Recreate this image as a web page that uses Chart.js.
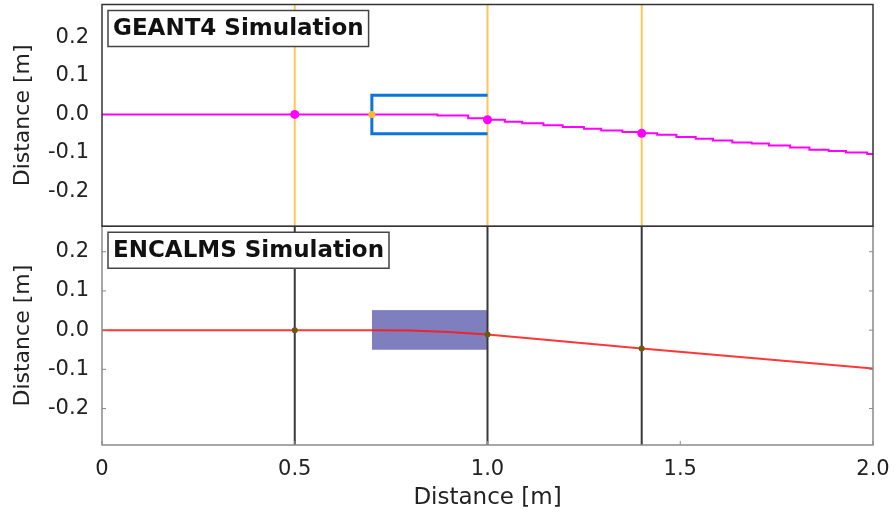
<!DOCTYPE html>
<html>
<head>
<meta charset="utf-8">
<script src="https://cdn.jsdelivr.net/npm/chart.js@4"></script>
<style>
  html, body { margin: 0; padding: 0; background: #fff; }
  #wrap { width: 896px; height: 516px; }
</style>
</head>
<body>
<div id="wrap"><canvas id="trackChart" width="896" height="516"></canvas></div>
<script>
// --- data ---
const detectorX = [0.5, 1.0, 1.4];
const geantHitY = [0.0, -0.014, -0.049];
const encalmsHitY = [0.0, -0.011, -0.047];
const magnetX = [0.7, 1.0];
const magnetY = [-0.05, 0.05];
const geantEntry = [0.7, 0.0];

// GEANT4 track (staircase)
const geantX = [0, 0.87, 0.95, 1.0, 1.045, 1.09, 1.145, 1.195, 1.25, 1.295, 1.35, 1.4, 1.44,
  1.49, 1.54, 1.585, 1.635, 1.685, 1.73, 1.785, 1.835, 1.885, 1.93, 1.985, 2.0];
const geantY = [0, -0.003, -0.010, -0.014, -0.019, -0.023, -0.028, -0.033, -0.037, -0.042, -0.046,
  -0.049, -0.053, -0.059, -0.063, -0.068, -0.073, -0.076, -0.081, -0.086, -0.092, -0.095, -0.099, -0.103, -0.103];

// ENCALMS track
const encX = [0, 0.7, 0.8, 0.9, 1.0, 1.4, 2.0];
const encY = [0, 0, -0.001, -0.005, -0.011, -0.047, -0.098];

const xTicks = [0, 0.5, 1.0, 1.5, 2.0];
const yTicks = [-0.2, -0.1, 0.0, 0.1, 0.2];
const topRange = [-0.291, 0.286];
const botRange = [-0.293, 0.265];
const panelLabels = ['GEANT4 Simulation', 'ENCALMS Simulation'];

const FONT = "'DejaVu Sans', Verdana, sans-serif";
const pts = (xs, ys) => xs.map((x, i) => ({ x: x, y: ys[i] }));

const datasets = [];

// top panel
datasets.push({
  data: detectorX.map((x, i) => ({ x: x, y: geantHitY[i] })),
  yAxisID: 'yTop', showLine: false, pointRadius: 4.5, pointBackgroundColor: '#ff00ff',
  pointBorderWidth: 0, order: 0
});
datasets.push({
  data: [{ x: geantEntry[0], y: geantEntry[1] }],
  yAxisID: 'yTop', showLine: false, pointRadius: 3.5, pointBackgroundColor: '#ffb830',
  pointBorderWidth: 0, order: 0
});
datasets.push({
  data: pts(geantX, geantY), yAxisID: 'yTop', borderColor: '#ff00ff', borderWidth: 2,
  stepped: 'before', pointRadius: 0, order: 1
});
datasets.push({
  data: [{ x: magnetX[1], y: magnetY[1] }, { x: magnetX[0], y: magnetY[1] },
         { x: magnetX[0], y: magnetY[0] }, { x: magnetX[1], y: magnetY[0] }],
  yAxisID: 'yTop', borderColor: '#0a74da', borderWidth: 3, pointRadius: 0, order: 2
});
detectorX.forEach(x => {
  datasets.push({
    data: [{ x: x, y: topRange[0] }, { x: x, y: topRange[1] }],
    yAxisID: 'yTop', borderColor: '#ffc658', borderWidth: 2, pointRadius: 0, order: 3
  });
});

// bottom panel
datasets.push({
  data: detectorX.map((x, i) => ({ x: x, y: encalmsHitY[i] })),
  yAxisID: 'yBot', showLine: false, pointRadius: 3, pointBackgroundColor: '#6b5b10',
  pointBorderWidth: 0, order: 0
});
detectorX.forEach(x => {
  datasets.push({
    data: [{ x: x, y: botRange[0] }, { x: x, y: botRange[1] }],
    yAxisID: 'yBot', borderColor: '#383838', borderWidth: 2, pointRadius: 0, order: 1
  });
});
datasets.push({
  data: pts(encX, encY), yAxisID: 'yBot', borderColor: 'rgba(255,20,20,0.85)', borderWidth: 2,
  pointRadius: 0, order: 2
});
datasets.push({
  data: [{ x: magnetX[0], y: magnetY[1] }, { x: magnetX[1], y: magnetY[1] }],
  yAxisID: 'yBot', borderColor: '#8c8cc8', borderWidth: 1, backgroundColor: '#7f7fbf',
  fill: { value: magnetY[0] }, pointRadius: 0, order: 3
});

function yScale(range, weight) {
  return {
    type: 'linear', position: 'left', stack: 'panels', stackWeight: weight,
    min: range[0], max: range[1],
    grid: { display: false }, border: { display: false },
    afterBuildTicks: s => { s.ticks = yTicks.map(v => ({ value: v })); },
    afterFit: s => { s.width = 102; s.paddingTop = 0; s.paddingBottom = 0; },
    ticks: { color: '#222', padding: 5, font: { family: FONT, size: 21 },
             callback: v => v.toFixed(1) },
    title: { display: true, text: 'Distance [m]', color: '#222', padding: { top: 10 },
             font: { family: FONT, size: 22 } }
  };
}

// frames, inner tick marks and panel labels
const framePlugin = {
  id: 'frames',
  afterDatasetsDraw(chart) {
    const ctx = chart.ctx;
    const { left, right } = chart.chartArea;
    const top = chart.scales.yTop, bot = chart.scales.yBot, xs = chart.scales.x;
    ctx.save();
    // bottom panel: light frame with small inward ticks
    ctx.strokeStyle = '#8a8a8a';
    ctx.lineWidth = 1.5;
    ctx.strokeRect(left, bot.top, right - left, bot.bottom - bot.top);
    ctx.lineWidth = 1;
    ctx.beginPath();
    yTicks.forEach(v => {
      const y = bot.getPixelForValue(v);
      ctx.moveTo(left, y); ctx.lineTo(left + 4, y);
      ctx.moveTo(right, y); ctx.lineTo(right - 4, y);
    });
    xTicks.forEach(v => {
      const x = xs.getPixelForValue(v);
      ctx.moveTo(x, bot.bottom); ctx.lineTo(x, bot.bottom - 4);
    });
    ctx.stroke();
    // top panel: darker frame
    ctx.strokeStyle = '#333';
    ctx.lineWidth = 1.5;
    ctx.strokeRect(left, top.top, right - left, top.bottom - top.top);
    // label boxes
    ctx.font = 'bold 23px ' + FONT;
    ctx.textBaseline = 'middle';
    [top, bot].forEach((s, i) => {
      const w = ctx.measureText(panelLabels[i]).width + 10;
      const bx = left + 6, by = s.top + 6, bh = 36;
      ctx.fillStyle = '#fff';
      ctx.fillRect(bx, by, w, bh);
      ctx.strokeStyle = '#444';
      ctx.lineWidth = 1.5;
      ctx.strokeRect(bx, by, w, bh);
      ctx.fillStyle = '#111';
      ctx.fillText(panelLabels[i], bx + 5, by + bh / 2 + 1);
    });
    ctx.restore();
  }
};

new Chart(document.getElementById('trackChart'), {
  type: 'line',
  data: { datasets: datasets },
  options: {
    responsive: false,
    animation: false,
    layout: { padding: { top: 4, right: 23, left: 0, bottom: 0 } },
    plugins: { legend: { display: false }, tooltip: { enabled: false } },
    elements: { line: { tension: 0, fill: false } },
    scales: {
      x: {
        type: 'linear', min: 0, max: 2,
        grid: { display: false }, border: { display: false },
        afterBuildTicks: s => { s.ticks = xTicks.map(v => ({ value: v })); },
        afterFit: s => { s.height = 71; s.paddingLeft = 0; s.paddingRight = 0; },
        ticks: { color: '#222', padding: 4, font: { family: FONT, size: 21 },
                 callback: v => (v === 0 ? '0' : v.toFixed(1)) },
        title: { display: true, text: 'Distance [m]', color: '#222', padding: { bottom: 4 },
                 font: { family: FONT, size: 23 } }
      },
      yBot: yScale(botRange, 219),
      yTop: yScale(topRange, 222)
    }
  },
  plugins: [framePlugin]
});
</script>
</body>
</html>
